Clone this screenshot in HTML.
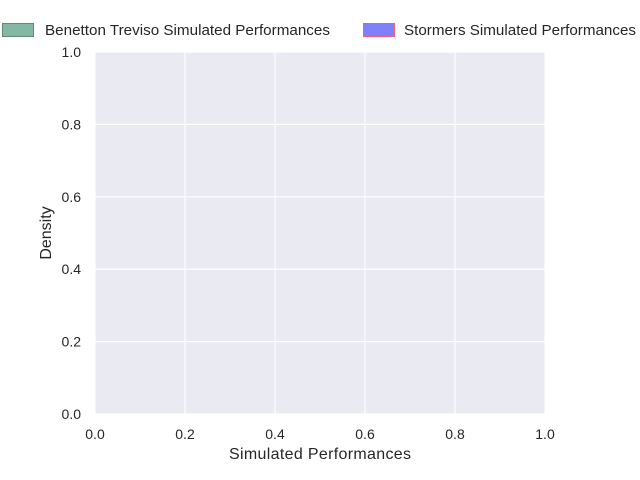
<!DOCTYPE html>
<html><head><meta charset="utf-8"><style>
body{margin:0;background:#fff;}
svg{display:block;font-family:"Liberation Sans","DejaVu Sans",sans-serif;}
</style></head><body>
<svg width="640" height="480">
<rect x="95" y="52" width="450" height="362" fill="#eaeaf2"/>
<g id="grid"></g>
<g id="ticks" font-size="14" fill="#262626"></g>
<text x="320" y="459" text-anchor="middle" font-size="16" fill="#262626" textLength="182">Simulated Performances</text>
<text transform="translate(51,233) rotate(-90)" text-anchor="middle" font-size="16" fill="#262626">Density</text>
<g>
<rect x="2.5" y="23.5" width="31" height="13" fill="#85b8a4" stroke="#5f8a78"/>
<text x="45" y="35" font-size="15" fill="#262626" textLength="285" lengthAdjust="spacingAndGlyphs">Benetton Treviso Simulated Performances</text>
<rect x="363.5" y="23.5" width="31" height="13" fill="#8080fb" stroke="#f06070"/>
<text x="404" y="35" font-size="15" fill="#262626" textLength="232" lengthAdjust="spacingAndGlyphs">Stormers Simulated Performances</text>
</g>
</svg>
<script>
const xTicks=[0,0.2,0.4,0.6,0.8,1.0];
const yTicks=[0,0.2,0.4,0.6,0.8,1.0];
const xs=v=>95+v*450, ys=v=>414-v*362;
const NS="http://www.w3.org/2000/svg";
const g=document.getElementById('grid'), t=document.getElementById('ticks');
xTicks.forEach(v=>{
 const l=document.createElementNS(NS,'line');
 
 
 l.setAttribute('x1',xs(v));l.setAttribute('x2',xs(v));l.setAttribute('y1',52);l.setAttribute('y2',414);
 l.setAttribute('stroke','#fff');l.setAttribute('stroke-width','1.2');g.appendChild(l);
 const tx=document.createElementNS(NS,'text');
 
 
 tx.setAttribute('x',xs(v));tx.setAttribute('y',439);tx.setAttribute('text-anchor','middle');
 tx.textContent=v.toFixed(1);t.appendChild(tx);
});
yTicks.forEach(v=>{
 const l=document.createElementNS(NS,'line');
 
 
 l.setAttribute('x1',95);l.setAttribute('x2',545);l.setAttribute('y1',ys(v));l.setAttribute('y2',ys(v));
 l.setAttribute('stroke','#fff');l.setAttribute('stroke-width','1.2');g.appendChild(l);
 const tx=document.createElementNS(NS,'text');
 
 
 tx.setAttribute('x',81);tx.setAttribute('y',ys(v)+5);tx.setAttribute('text-anchor','end');
 tx.textContent=v.toFixed(1);t.appendChild(tx);
});
</script>
</body></html>
